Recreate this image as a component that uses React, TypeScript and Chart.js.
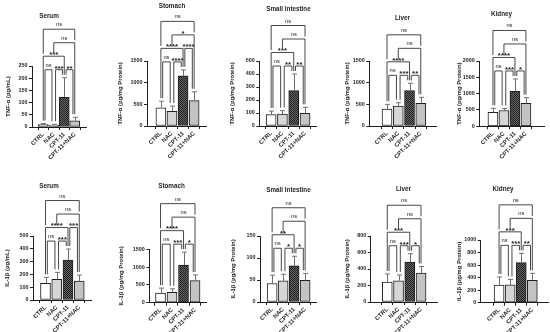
import React, { useEffect, useRef } from "react";
import { Chart, registerables } from "chart.js";
Chart.register(...registerables);

const FONT = "'Liberation Sans', Arial, sans-serif";
const groups = ["CTRL", "NAC", "CPT-11", "CPT-11+NAC"];

// TNF-α means and upper SD
const serumTnfMean = [10, 8, 122, 25];
const serumTnfErr = [4, 3, 80, 15];
const stomachTnfMean = [422, 340, 1155, 584];
const stomachTnfErr = [150, 120, 140, 205];
const intestineTnfMean = [88, 92, 272, 97];
const intestineTnfErr = [27, 26, 128, 47];
const liverTnfMean = [392, 462, 815, 523];
const liverTnfErr = [108, 76, 170, 139];
const kidneyTnfMean = [429, 485, 1070, 704];
const kidneyTnfErr = [122, 60, 380, 174];

// IL-1β means and upper SD
const serumIlMean = [130, 161, 312, 148];
const serumIlErr = [47, 55, 86, 47];
const stomachIlMean = [270, 290, 1060, 620];
const stomachIlErr = [140, 100, 360, 160];
const intestineIlMean = [42, 48, 82, 49];
const intestineIlErr = [19, 15, 22, 16];
const liverIlMean = [240, 258, 485, 350];
const liverIlErr = [100, 70, 100, 80];
const kidneyIlMean = [282, 285, 638, 356];
const kidneyIlErr = [128, 87, 149, 112];

// significance brackets: [from, to, label, level]
type Sig = [number, number, string, number];
const serumTnfSig: Sig[] = [[0, 1, "ns", 1], [1, 2, "***", 1], [2, 3, "**", 1], [0, 2, "***", 2], [1, 3, "ns", 3], [0, 3, "ns", 4]];
const stomachTnfSig: Sig[] = [[0, 1, "ns", 1], [1, 2, "****", 1], [2, 3, "****", 2], [0, 2, "****", 2], [1, 3, "*", 3], [0, 3, "ns", 4]];
const intestineTnfSig: Sig[] = [[0, 1, "ns", 1], [1, 2, "**", 1], [2, 3, "**", 1], [0, 2, "***", 2], [1, 3, "ns", 3], [0, 3, "ns", 4]];
const liverTnfSig: Sig[] = [[0, 1, "ns", 1], [1, 2, "***", 1], [2, 3, "**", 1], [0, 2, "****", 2], [1, 3, "ns", 3], [0, 3, "ns", 4]];
const kidneyTnfSig: Sig[] = [[0, 1, "ns", 1], [1, 2, "***", 1], [2, 3, "*", 1], [0, 2, "****", 2], [1, 3, "ns", 3], [0, 3, "ns", 4]];
const serumIlSig: Sig[] = [[0, 1, "ns", 1], [1, 2, "***", 1], [2, 3, "***", 2], [0, 2, "****", 2], [1, 3, "ns", 3], [0, 3, "ns", 4]];
const stomachIlSig: Sig[] = [[0, 1, "ns", 1], [1, 2, "***", 1], [2, 3, "*", 1], [0, 2, "****", 2], [1, 3, "ns", 3], [0, 3, "ns", 4]];
const intestineIlSig: Sig[] = [[0, 1, "ns", 1], [1, 2, "*", 1], [2, 3, "*", 1], [0, 2, "**", 2], [1, 3, "ns", 3], [0, 3, "ns", 4]];
const liverIlSig: Sig[] = [[0, 1, "ns", 1], [1, 2, "***", 1], [2, 3, "*", 1], [0, 2, "***", 2], [1, 3, "ns", 3], [0, 3, "ns", 4]];
const kidneyIlSig: Sig[] = [[0, 1, "ns", 1], [1, 2, "***", 1], [2, 3, "**", 1], [0, 2, "***", 2], [1, 3, "ns", 3], [0, 3, "ns", 4]];

const tnfMg = "TNF-α (pg/mg Protein)";
const ilMg = "IL-1β (pg/mg Protein)";

type Panel = {
  title: string; yTitle: string; mean: number[]; err: number[]; sig: Sig[];
  yMax: number; yStep: number;
  px: number; py: number; axisX: number; top: number; bottom: number; end: number;
  bar0: number; bar3: number; titleX: number; titleY: number; yTitleX: number;
};

const panels: Panel[] = [
  { title: "Serum", yTitle: "TNF-α (pg/mL)", mean: serumTnfMean, err: serumTnfErr, sig: serumTnfSig, yMax: 250, yStep: 50,
    px: 0, py: 0, axisX: 32, top: 66, bottom: 127, end: 86, bar0: 38, bar3: 80, titleX: 49, titleY: 16, yTitleX: 8 },
  { title: "Stomach", yTitle: tnfMg, mean: stomachTnfMean, err: stomachTnfErr, sig: stomachTnfSig, yMax: 1500, yStep: 500,
    px: 110, py: 0, axisX: 147, top: 61, bottom: 126, end: 206, bar0: 155.7, bar3: 200, titleX: 172, titleY: 6, yTitleX: 120 },
  { title: "Small Intestine", yTitle: tnfMg, mean: intestineTnfMean, err: intestineTnfErr, sig: intestineTnfSig, yMax: 500, yStep: 100,
    px: 220, py: 0, axisX: 259.3, top: 61, bottom: 126, end: 316.7, bar0: 265.5, bar3: 310.7, titleX: 288.5, titleY: 9, yTitleX: 232.7 },
  { title: "Liver", yTitle: tnfMg, mean: liverTnfMean, err: liverTnfErr, sig: liverTnfSig, yMax: 1500, yStep: 500,
    px: 330, py: 0, axisX: 369.3, top: 61, bottom: 126, end: 436.7, bar0: 381.7, bar3: 426.7, titleX: 402.5, titleY: 18, yTitleX: 347.3 },
  { title: "Kidney", yTitle: tnfMg, mean: kidneyTnfMean, err: kidneyTnfErr, sig: kidneyTnfSig, yMax: 2000, yStep: 500,
    px: 440, py: 0, axisX: 479.3, top: 61, bottom: 126.3, end: 544, bar0: 486.7, bar3: 530.7, titleX: 501.5, titleY: 14, yTitleX: 459.3 },
  { title: "Serum", yTitle: "IL-1β (pg/mL)", mean: serumIlMean, err: serumIlErr, sig: serumIlSig, yMax: 500, yStep: 100,
    px: 0, py: 166, axisX: 33, top: 236, bottom: 300, end: 91, bar0: 40, bar3: 85, titleX: 49, titleY: 186, yTitleX: 7.3 },
  { title: "Stomach", yTitle: ilMg, mean: stomachIlMean, err: stomachIlErr, sig: stomachIlSig, yMax: 1500, yStep: 500,
    px: 110, py: 166, axisX: 149.3, top: 249.3, bottom: 302.7, end: 206.7, bar0: 154.7, bar3: 200.7, titleX: 171.5, titleY: 186.5, yTitleX: 121.7 },
  { title: "Small Intestine", yTitle: ilMg, mean: intestineIlMean, err: intestineIlErr, sig: intestineIlSig, yMax: 150, yStep: 50,
    px: 220, py: 166, axisX: 260, top: 236, bottom: 302, end: 316.7, bar0: 266.7, bar3: 310.7, titleX: 288.5, titleY: 190, yTitleX: 233.3 },
  { title: "Liver", yTitle: ilMg, mean: liverIlMean, err: liverIlErr, sig: liverIlSig, yMax: 800, yStep: 200,
    px: 330, py: 166, axisX: 370.7, top: 236, bottom: 302, end: 437.3, bar0: 381.7, bar3: 426.7, titleX: 403.5, titleY: 189.5, yTitleX: 347.3 },
  { title: "Kidney", yTitle: ilMg, mean: kidneyIlMean, err: kidneyIlErr, sig: kidneyIlSig, yMax: 1000, yStep: 200,
    px: 440, py: 166, axisX: 480.7, top: 240, bottom: 302.7, end: 548, bar0: 494, bar3: 538.3, titleX: 503, titleY: 189.5, yTitleX: 459.3 },
];

const W = 110;
const H = 166;
const INK = "#1e1e1e";

function makePattern(a: string, b: string, cell: number) {
  const c = document.createElement("canvas");
  c.width = cell * 2;
  c.height = cell * 2;
  const g = c.getContext("2d")!;
  g.fillStyle = a;
  g.fillRect(0, 0, cell * 2, cell * 2);
  g.fillStyle = b;
  g.fillRect(0, 0, cell, cell);
  g.fillRect(cell, cell, cell, cell);
  return g.createPattern(c, "repeat")!;
}

function annotPlugin(p: Panel) {
  return {
    id: "annot",
    afterDraw(chart: any) {
      const ctx: CanvasRenderingContext2D = chart.ctx;
      const xs = chart.scales.x;
      const ys = chart.scales.y;
      const area = chart.chartArea;
      ctx.save();
      // error bars (upper only)
      const errTop = p.mean.map((m, i) => ys.getPixelForValue(m + p.err[i]));
      ctx.strokeStyle = "#707070";
      ctx.lineWidth = 1;
      p.mean.forEach((m, i) => {
        const x = Math.round(xs.getPixelForValue(i)) + 0.5;
        const y0 = ys.getPixelForValue(m);
        const y1 = errTop[i];
        ctx.beginPath();
        ctx.moveTo(x, y0);
        ctx.lineTo(x, y1);
        ctx.moveTo(x - 2.5, y1);
        ctx.lineTo(x + 2.5, y1);
        ctx.stroke();
      });
      // brackets
      const base = Math.min(...errTop) - 8;
      const gap = 13.5;
      const br = p.sig.map(([a, b, label, level]) => {
        const ins = b - a === 1 ? 1.8 : 0;
        return { a, b, label, x1: xs.getPixelForValue(a) + ins, x2: xs.getPixelForValue(b) - ins, y: base - (level - 1) * gap };
      });
      const legBottom = (x: number, y: number, cat: number) => {
        let best = Infinity;
        for (const o of br) {
          if (o.y > y + 0.1 && x >= o.x1 - 0.8 && x <= o.x2 + 0.8) best = Math.min(best, o.y);
        }
        return best < Infinity ? best - 2.5 : errTop[cat] - 3;
      };
      ctx.strokeStyle = "#333";
      ctx.lineWidth = 0.9;
      ctx.fillStyle = INK;
      ctx.textAlign = "center";
      ctx.textBaseline = "alphabetic";
      for (const o of br) {
        const b1 = legBottom(o.x1, o.y, o.a);
        const b2 = legBottom(o.x2, o.y, o.b);
        ctx.beginPath();
        ctx.moveTo(o.x1, b1);
        ctx.lineTo(o.x1, o.y);
        ctx.lineTo(o.x2, o.y);
        ctx.lineTo(o.x2, b2);
        ctx.stroke();
        const cx = (o.x1 + o.x2) / 2;
        if (o.label === "ns") {
          ctx.font = `5.8px ${FONT}`;
          ctx.fillText(o.label, cx, o.y - 3);
        } else {
          ctx.font = `bold 7.8px ${FONT}`;
          ctx.fillText(o.label, cx, o.y + 0.8);
        }
      }
      // panel title
      ctx.font = `bold 6.3px ${FONT}`;
      ctx.textBaseline = "middle";
      ctx.fillText(p.title, p.titleX - p.px, p.titleY - p.py);
      // y axis title
      ctx.translate(p.yTitleX - p.px, (area.top + area.bottom) / 2);
      ctx.rotate(-Math.PI / 2);
      ctx.font = `bold 5.9px ${FONT}`;
      ctx.fillText(p.yTitle, 0, 0);
      ctx.restore();
    },
  };
}

function PanelChart({ p }: { p: Panel }) {
  const ref = useRef<HTMLCanvasElement>(null);
  useEffect(() => {
    const canvas = ref.current!;
    const fills = [
      "#ffffff",
      "#d6d6d6",
      makePattern("#6a6a6a", "#1c1c1c", 1),
      "#c3c3c3",
    ];
    const s = (p.bar3 - p.bar0) / 3;
    const xMin = -(p.bar0 - p.axisX) / s;
    const xMax = 3 + (p.end - p.bar3) / s;
    const yWidth = p.axisX - p.px;
    const xHeight = p.py + H - p.bottom;
    const yFont = { family: FONT, size: 5.4, weight: "bold" as const };
    const xFont = { family: FONT, size: 5.9, weight: "bold" as const };
    const chart = new Chart(canvas, {
      type: "bar",
      data: {
        datasets: [
          {
            data: p.mean.map((v, i) => ({ x: i, y: v })),
            backgroundColor: fills as any,
            borderColor: INK,
            borderWidth: 1,
            borderSkipped: false,
            barThickness: Math.round(s * 0.68),
          },
        ],
      },
      options: {
        responsive: false,
        animation: false,
        devicePixelRatio: 1,
        events: [],
        layout: { padding: { left: 0, top: p.top - p.py, right: p.px + W - p.end, bottom: 0 } },
        plugins: { legend: { display: false }, tooltip: { enabled: false }, title: { display: false } },
        scales: {
          x: {
            type: "linear",
            min: xMin,
            max: xMax,
            afterBuildTicks: (sc: any) => {
              sc.ticks = groups.map((_, i) => ({ value: i }));
            },
            afterFit: (sc: any) => {
              sc.height = xHeight;
            },
            ticks: {
              autoSkip: false,
              minRotation: 45,
              maxRotation: 45,
              padding: 1,
              color: INK,
              font: xFont,
              callback: (v: any) => groups[v] ?? "",
            },
            grid: { display: true, drawOnChartArea: false, drawTicks: true, tickLength: 3, color: INK, lineWidth: 1 },
            border: { display: true, color: INK, width: 1 },
          },
          y: {
            min: 0,
            max: p.yMax,
            afterFit: (sc: any) => {
              sc.width = yWidth;
            },
            ticks: { stepSize: p.yStep, padding: 1.5, color: INK, font: yFont, callback: (v: any) => String(v) },
            grid: { display: true, drawOnChartArea: false, drawTicks: true, tickLength: 3, color: INK, lineWidth: 1 },
            border: { display: true, color: INK, width: 1 },
          },
        },
      } as any,
      plugins: [annotPlugin(p)],
    });
    return () => chart.destroy();
  }, [p]);
  return (
    <canvas
      ref={ref}
      width={W}
      height={H}
      style={{ position: "absolute", left: p.px, top: p.py, width: W, height: H }}
    />
  );
}

export default function App() {
  return (
    <div style={{ position: "fixed", left: 0, top: 0, width: 550, height: 332, background: "#fff", overflow: "hidden" }}>
      {panels.map((p, i) => (
        <PanelChart key={i} p={p} />
      ))}
    </div>
  );
}
